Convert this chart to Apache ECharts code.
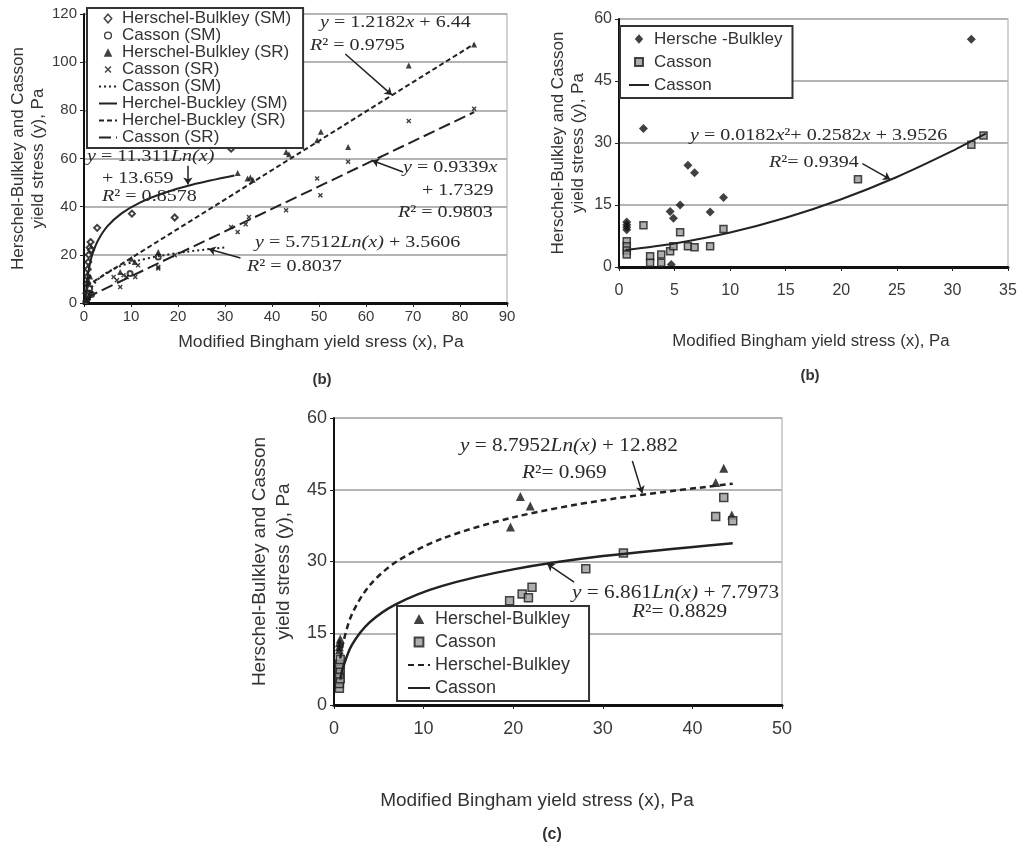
<!DOCTYPE html>
<html>
<head>
<meta charset="utf-8">
<script src="https://cdn.jsdelivr.net/npm/echarts@6/dist/echarts.min.js"></script>
<style>html,body{margin:0;padding:0;background:#fff}#c{width:1027px;height:852px}</style>
</head>
<body>
<div id="c"></div>
<script>
// ---------- Chart 1 data (top left) ----------
const c1Range = {xMax: 90, xInt: 10, yMax: 120, yInt: 20};
const c1HbSM = [[0.5,4],[0.6,8],[0.7,11],[0.8,14],[0.9,17],[1.0,20],[1.2,23],[1.4,25.3],[1.5,22],[2.8,31.2],[10.2,37.1],[19.3,35.5],[31.3,64.1]];
const c1CassonSM = [[0.4,0.5],[0.6,1.5],[0.8,2.5],[1.0,4],[1.2,6],[0.7,3],[1.6,3.5],[9.8,12.2],[15.8,19.1]];
const c1HbSR = [[83,107.3],[69.1,98.6],[56.2,64.8],[50.4,71.1],[49.6,67.6],[43,62.7],[43.6,61.8],[34.8,51.7],[35.4,52.1],[35.9,51.2],[32.7,54],[15.8,21.2],[10.1,18.4],[10.8,17],[7.7,12.9],[1.0,9],[1.3,11]];
const c1CassonSR = [[83,80.7],[69.1,75.6],[56.2,58.6],[49.6,51.7],[50.3,44.7],[43,38.5],[31.3,31.6],[32.7,29.5],[34.4,32.7],[35.1,35.7],[19.3,19.8],[15.8,15],[15.8,14.3],[11.5,15.7],[8.4,11.5],[9.1,10.8],[10.9,10.8],[6.3,10.8],[7,9.4],[7.7,6.6],[1,2],[1.5,4],[0.5,1]];
const c1CassonSMFit = [[0.6,0.6],[1,3.56],[2,7.55],[4,11.53],[7,14.75],[11,17.35],[16,19.5],[22,21.3],[30,23.1]];
const c1HbSMFit = [[0.3,0.0],[0.4,3.3],[0.5,5.8],[0.75,10.4],[1,13.66],[1.5,18.25],[2,21.5],[3,26.1],[5,31.9],[8,37.2],[12,41.8],[17,45.7],[23,49.1],[32,52.9]];
const c1HbSRFit = [[0.5,7.05],[83,107.55]];
const c1CassonSRFit = [[0.5,2.2],[83,79.25]];

// ---------- Chart 2 data (top right) ----------
const c2Range = {xMax: 35, xInt: 5, yMax: 60, yInt: 15};
const c2Hb = [[31.7,55.1],[2.2,33.5],[6.2,24.6],[6.8,22.8],[9.4,16.8],[5.5,15.0],[4.6,13.4],[4.9,11.8],[8.2,13.3],[0.7,10.9],[0.7,10.2],[0.7,9.6],[0.7,9.0],[4.7,0.6]];
const c2Casson = [[32.8,31.8],[31.7,29.6],[21.5,21.2],[2.2,10.1],[5.5,8.4],[9.4,9.2],[8.2,5.0],[6.2,5.0],[6.8,4.8],[4.6,3.8],[4.9,5.0],[0.7,6.2],[0.7,5.0],[0.7,4.0],[0.7,3.0],[2.8,2.6],[2.8,1.0],[3.8,3.0],[3.8,1.0]];
const c2CassonFit = [[0.6,4.11],[5,5.70],[10,8.35],[15,11.92],[20,16.40],[25,21.78],[30,28.08],[33,32.29]];

// ---------- Chart 3 data (bottom) ----------
const c3Range = {xMax: 50, xInt: 10, yMax: 60, yInt: 15};
const c3Hb = [[43.5,49.5],[42.6,46.5],[20.8,43.6],[21.9,41.6],[19.7,37.2],[44.4,39.7],[0.6,12.2],[0.6,13.0],[0.7,13.8],[0.6,11.5]];
const c3Casson = [[43.5,43.4],[42.6,39.4],[44.5,38.5],[32.3,31.8],[28.1,28.5],[19.6,21.8],[21.0,23.2],[21.7,22.4],[22.1,24.6],[0.6,3.5],[0.6,4.5],[0.7,5.5],[0.6,6.5],[0.7,7.5],[0.6,8.5],[0.7,9.5]];
const c3HbFit = [[0.7,9.75],[1,12.88],[2,18.98],[4,25.07],[7,30.0],[12,34.74],[20,39.23],[30,42.8],[44.5,46.26]];
const c3CassonFit = [[0.7,5.35],[1,7.80],[2,12.55],[4,17.31],[7,21.15],[12,24.85],[20,28.35],[30,31.13],[44.5,33.84]];

// ---------- Annotation arrows (data coords) ----------
const c1Arrows = [[[55.6,103.4],[65.5,86.4]],[[22.1,57],[22.1,49.2]],[[67.9,54.4],[61.3,59.2]],[[33.3,18.7],[26.5,22.4]]];
const c2Arrows = [[[21.9,25],[24.4,21.2]]];
const c3Arrows = [[[33.3,51],[34.4,44.3]],[[26.8,25.7],[23.8,29.5]]];

const SANS = 'Liberation Sans, Arial, sans-serif';
const SERIF = 'Liberation Serif, Times New Roman, serif';
const TXT = '#2a2a2a';

// legend icon shapes drawn inside a 20x10 box (keeps symbols undistorted)
const BOX = 'M0,5L0,5M20,5L20,5';
const IC_DIAMOND = 'path://' + BOX + 'M10,0.2L14.2,5L10,9.8L5.8,5Z';
const IC_CIRCLE = 'path://' + BOX + 'M13.8,5A3.8,3.8,0,1,1,6.2,5A3.8,3.8,0,1,1,13.8,5Z';
const IC_TRI = 'path://' + BOX + 'M10,0.4L14.8,9.6L5.2,9.6Z';
const IC_X = 'path://' + BOX + 'M6.2,2.3L7.3,1.2L10,3.9L12.7,1.2L13.8,2.3L11.1,5L13.8,7.7L12.7,8.8L10,6.1L7.3,8.8L6.2,7.7L8.9,5Z';
const IC_SQ = 'path://' + BOX + 'M6,1H14V9H6Z';
const HIDE = {opacity:0};

function xAx(gi, r, fs, margin) {
  return {type:'value', gridIndex:gi, min:0, max:r.xMax, interval:r.xInt,
    axisLine:{show:true, lineStyle:{color:'#111', width:3}},
    axisTick:{show:true, length:4, lineStyle:{color:'#222', width:1}},
    axisLabel:{color:'#3a3a3a', fontFamily:SANS, fontSize:fs, margin:margin},
    splitLine:{show:false}};
}
function yAx(gi, r, fs, gap, nfs, nlh) {
  return {type:'value', gridIndex:gi, min:0, max:r.yMax, interval:r.yInt,
    name:'Herschel-Bulkley and Casson\nyield stress (y), Pa', nameLocation:'middle', nameRotate:90, nameGap:gap,
    nameTextStyle:{color:'#333', fontFamily:SANS, fontSize:nfs, lineHeight:nlh},
    axisLine:{show:true, lineStyle:{color:'#111', width:2}},
    axisTick:{show:true, length:4, lineStyle:{color:'#222', width:1}},
    axisLabel:{color:'#3a3a3a', fontFamily:SANS, fontSize:fs, margin:7},
    splitLine:{show:true, lineStyle:{color:'#b4b4b4', width:2}}};
}
function arrows(list) {
  return {silent:true, animation:false, symbolSize:7, label:{show:false},
    lineStyle:{color:'#222', width:1.5, type:'solid'},
    data:list.map(a => [{coord:a[0], symbol:'none'}, {coord:a[1], symbol:'arrow'}])};
}
const XSYM = 'path://M0,2 L2,0 L5,3 L8,0 L10,2 L7,5 L10,8 L8,10 L5,7 L2,10 L0,8 L3,5 Z';
const sqStyle = {color:'#9a9a9a', borderColor:'#1a1a1a', borderWidth:1.5};

function eq(x, y, text, fs, sx) {
  return {type:'text', x:x, y:y, z:50, scaleX:sx, style:{text:text, fill:TXT, fontFamily:SERIF, fontSize:fs, align:'left', verticalAlign:'middle',
    rich:{i:{fontFamily:SERIF, fontSize:fs, fontStyle:'italic', fill:TXT}}}};
}
function plain(x, y, text, fs, bold, sx) {
  return {type:'text', x:x, y:y, z:50, scaleX:sx||1, style:{text:text, fill:'#333', fontFamily:SANS, fontSize:fs, fontWeight:bold?'bold':'normal', align:'center', verticalAlign:'middle'}};
}

const option = {
  animation:false,
  backgroundColor:'#fff',
  grid:[
    {left:84, top:14, width:423, height:289, show:true, borderColor:'#c4c4c4', borderWidth:1.5},
    {left:619, top:19, width:389, height:248, show:true, borderColor:'#c4c4c4', borderWidth:1.5},
    {left:334, top:418, width:448, height:287, show:true, borderColor:'#c4c4c4', borderWidth:1.5}
  ],
  xAxis:[xAx(0,c1Range,15,6), xAx(1,c2Range,16,16), xAx(2,c3Range,18,15)],
  yAxis:[yAx(0,c1Range,15,33,17,20), yAx(1,c2Range,16,31,17,20), yAx(2,c3Range,18,38,19,24)],
  legend:[
    {orient:'vertical', left:87, top:8, itemGap:0, itemWidth:18, itemHeight:9, padding:[2,12,2,11],
     borderColor:'#333', borderWidth:2, backgroundColor:'#fff', z:20,
     textStyle:{fontFamily:SANS, fontSize:17, lineHeight:17, color:'#333'},
     data:[
       {name:'Herschel-Bulkley (SM)', icon:IC_DIAMOND, itemStyle:{color:'#fff', borderColor:'#111', borderWidth:1.4}},
       {name:'Casson (SM)', icon:IC_CIRCLE, itemStyle:{color:'#fff', borderColor:'#111', borderWidth:1.4}},
       {name:'Herschel-Bulkley (SR)', icon:IC_TRI},
       {name:'Casson (SR)', icon:IC_X},
       {name:'Casson (SM) ', itemStyle:HIDE},
       {name:'Herchel-Buckley (SM)', itemStyle:HIDE},
       {name:'Herchel-Buckley (SR)', itemStyle:HIDE},
       {name:'Casson (SR) ', itemStyle:HIDE}]},
    {orient:'vertical', left:620, top:26, itemGap:1, itemWidth:20, itemHeight:10, padding:[2,10,2,8],
     borderColor:'#333', borderWidth:2, backgroundColor:'#fff', z:20,
     textStyle:{fontFamily:SANS, fontSize:17, lineHeight:22, color:'#333'},
     data:[{name:'Hersche -Bulkley', icon:IC_DIAMOND}, {name:'Casson', icon:IC_SQ}, {name:'Casson ', itemStyle:HIDE}]},
    {orient:'vertical', left:397, top:606, itemGap:1, itemWidth:22, itemHeight:11, padding:[2,14,2,10],
     borderColor:'#333', borderWidth:2, backgroundColor:'#fff', z:20,
     textStyle:{fontFamily:SANS, fontSize:18, lineHeight:22, color:'#333'},
     data:[{name:'Herschel-Bulkley', icon:IC_TRI}, {name:'Casson  ', icon:IC_SQ}, {name:'Herschel-Bulkley ', itemStyle:HIDE}, {name:'Casson   ', itemStyle:HIDE}]}
  ],
  series:[
    // chart 1
    {name:'Herschel-Bulkley (SM)', type:'scatter', xAxisIndex:0, yAxisIndex:0, symbol:'emptyDiamond', symbolSize:6, itemStyle:{color:'#111', borderWidth:1.2}, data:c1HbSM},
    {name:'Casson (SM)', type:'scatter', xAxisIndex:0, yAxisIndex:0, symbol:'emptyCircle', symbolSize:5, itemStyle:{color:'#111', borderWidth:1.2}, data:c1CassonSM},
    {name:'Herschel-Bulkley (SR)', type:'scatter', xAxisIndex:0, yAxisIndex:0, symbol:'triangle', symbolSize:6, itemStyle:{color:'#111'}, data:c1HbSR},
    {name:'Casson (SR)', type:'scatter', xAxisIndex:0, yAxisIndex:0, symbol:XSYM, symbolSize:5, itemStyle:{color:'#111'}, data:c1CassonSR},
    {name:'Casson (SM) ', type:'line', xAxisIndex:0, yAxisIndex:0, symbol:'none', smooth:0.3, lineStyle:{color:'#222', width:2, type:[2,3]}, itemStyle:{color:'#222'}, data:c1CassonSMFit,
     markLine:arrows(c1Arrows)},
    {name:'Herchel-Buckley (SM)', type:'line', xAxisIndex:0, yAxisIndex:0, symbol:'none', smooth:0.3, lineStyle:{color:'#222', width:2}, itemStyle:{color:'#222'}, data:c1HbSMFit},
    {name:'Herchel-Buckley (SR)', type:'line', xAxisIndex:0, yAxisIndex:0, symbol:'none', lineStyle:{color:'#222', width:2, type:[5,3]}, itemStyle:{color:'#222'}, data:c1HbSRFit},
    {name:'Casson (SR) ', type:'line', xAxisIndex:0, yAxisIndex:0, symbol:'none', lineStyle:{color:'#222', width:2, type:[12,5]}, itemStyle:{color:'#222'}, data:c1CassonSRFit},
    // chart 2
    {name:'Hersche -Bulkley', type:'scatter', xAxisIndex:1, yAxisIndex:1, symbol:'diamond', symbolSize:9, itemStyle:{color:'#111'}, data:c2Hb},
    {name:'Casson', type:'scatter', xAxisIndex:1, yAxisIndex:1, symbol:'rect', symbolSize:7, itemStyle:sqStyle, data:c2Casson},
    {name:'Casson ', type:'line', xAxisIndex:1, yAxisIndex:1, symbol:'none', smooth:0.3, lineStyle:{color:'#222', width:2}, itemStyle:{color:'#222'}, data:c2CassonFit,
     markLine:arrows(c2Arrows)},
    // chart 3
    {name:'Herschel-Bulkley', type:'scatter', xAxisIndex:2, yAxisIndex:2, symbol:'triangle', symbolSize:9, itemStyle:{color:'#111'}, data:c3Hb},
    {name:'Casson  ', type:'scatter', xAxisIndex:2, yAxisIndex:2, symbol:'rect', symbolSize:8, itemStyle:sqStyle, data:c3Casson},
    {name:'Herschel-Bulkley ', type:'line', xAxisIndex:2, yAxisIndex:2, symbol:'none', smooth:0.3, lineStyle:{color:'#222', width:2.5, type:[6,4]}, itemStyle:{color:'#222'}, data:c3HbFit,
     markLine:arrows(c3Arrows)},
    {name:'Casson   ', type:'line', xAxisIndex:2, yAxisIndex:2, symbol:'none', smooth:0.3, lineStyle:{color:'#222', width:2.5}, itemStyle:{color:'#222'}, data:c3CassonFit}
  ],
  graphic:[
    eq(320,23,'{i|y} = 1.2182{i|x} + 6.44',17,1.18),
    eq(310,46,'{i|R}² = 0.9795',17,1.18),
    eq(87,157,'{i|y} = 11.311{i|Ln(x)}',17,1.18),
    eq(102,179,'+ 13.659',17,1.18),
    eq(102,197,'{i|R}² = 0.8578',17,1.18),
    eq(403,168,'{i|y} = 0.9339{i|x}',17,1.18),
    eq(422,191,'+ 1.7329',17,1.18),
    eq(398,213,'{i|R}² = 0.9803',17,1.18),
    eq(255,243,'{i|y} = 5.7512{i|Ln(x)} + 3.5606',17,1.18),
    eq(247,267,'{i|R}² = 0.8037',17,1.18),
    eq(690,136,'{i|y} = 0.0182{i|x}²+ 0.2582{i|x} + 3.9526',17,1.18),
    eq(769,163,'{i|R}²= 0.9394',17,1.18),
    eq(460,446,'{i|y} = 8.7952{i|Ln(x)} + 12.882',19,1.12),
    eq(522,473,'{i|R}²= 0.969',19,1.12),
    eq(572,593,'{i|y} = 6.861{i|Ln(x)} + 7.7973',19,1.12),
    eq(632,612,'{i|R}²= 0.8829',19,1.12),
    plain(321,343,'Modified Bingham yield sress (x), Pa',16,false,1.1),
    plain(322,380,'(b)',15,true),
    plain(811,342,'Modified Bingham yield stress (x), Pa',16,false,1.05),
    plain(810,376,'(b)',15,true),
    plain(537,801,'Modified Bingham yield stress (x), Pa',19),
    plain(552,835,'(c)',16,true)
  ]
};
echarts.init(document.getElementById('c'), null, {renderer:'canvas'}).setOption(option);
</script>
</body>
</html>
